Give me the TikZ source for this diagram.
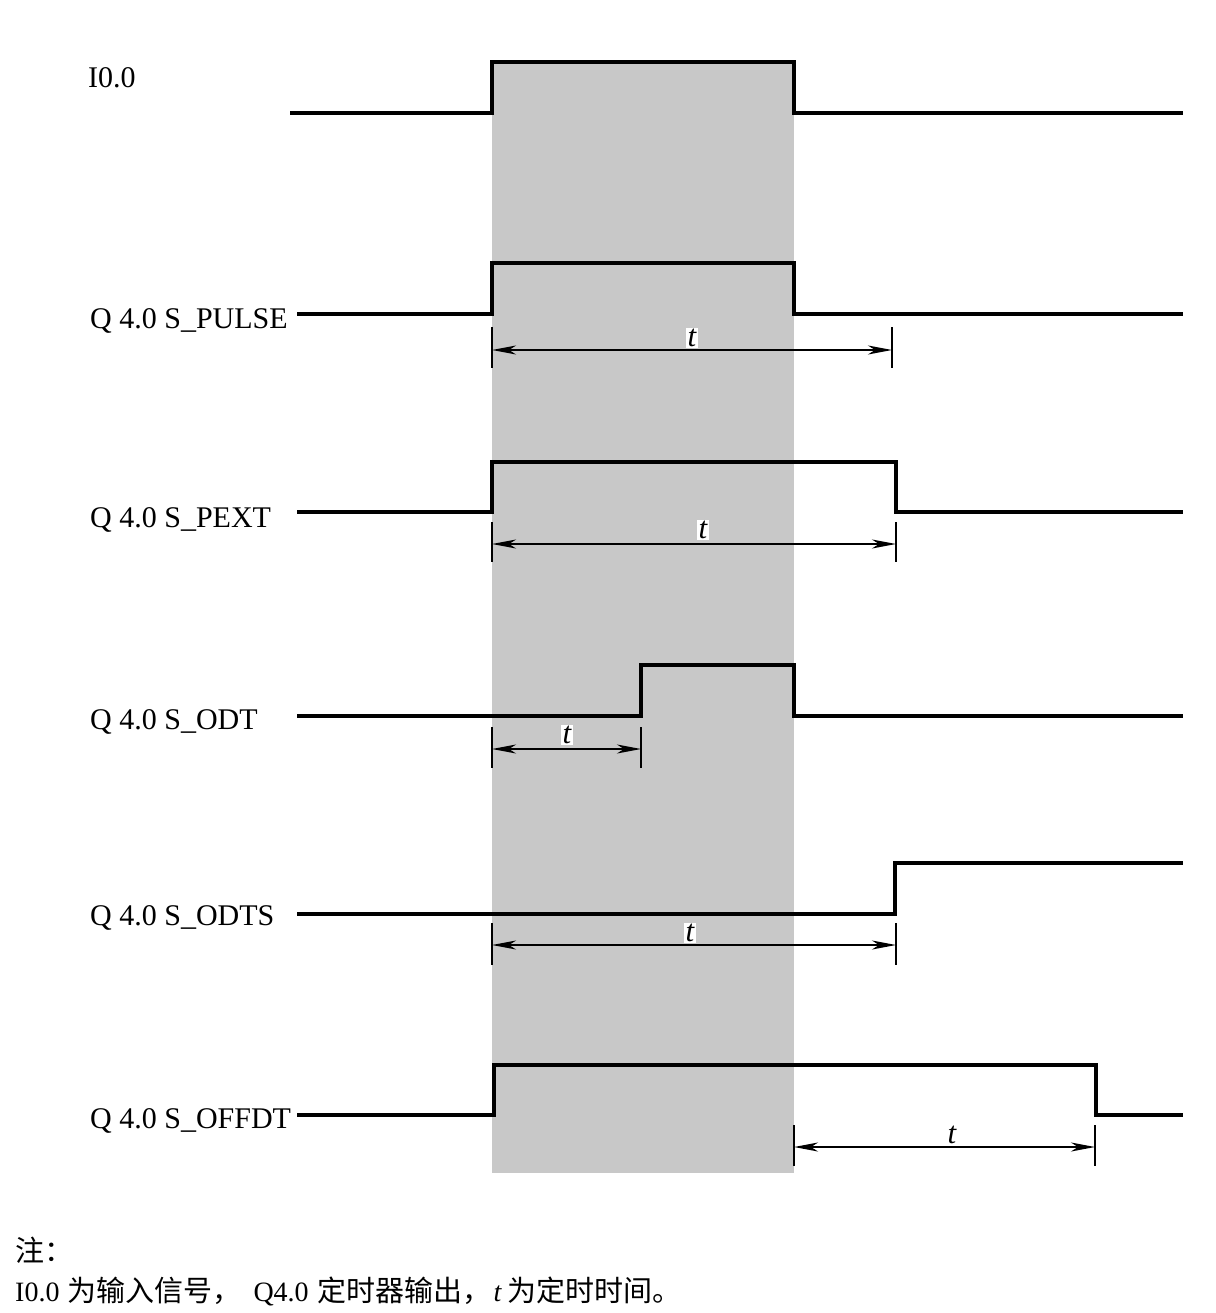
\documentclass[tikz,border=0pt]{standalone}
\usepackage{fontspec}
\setmainfont{Liberation Serif}
\newfontfamily\cjk{Noto Sans CJK SC}
\usetikzlibrary{arrows.meta}
\definecolor{band}{RGB}{200,200,200}
\begin{document}
\begin{tikzpicture}[x=1pt,y=-1pt,
  sig/.style={line width=3.6pt, line join=miter, line cap=butt},
  tickline/.style={line width=1.8pt},
  dimline/.style={line width=1.8pt, {Stealth[length=24pt,width=9pt,inset=7pt]}-{Stealth[length=24pt,width=9pt,inset=7pt]}},
  lbl/.style={anchor=base west, inner sep=0pt, font=\fontsize{30}{36}\selectfont},
  tlbl/.style={fill=white, inner sep=1.5pt, font=\fontsize{31}{32}\selectfont\itshape},
  note/.style={anchor=base west, inner sep=0pt, font=\fontsize{28}{34}\selectfont}]
\useasboundingbox (0,0) rectangle (1215,1313);
\fill[band] (492,62) rectangle (794,1173);

% labels
\node[lbl] (lI) at (88,88) {I0.0};
\node[lbl] (lP) at (90,328) {Q 4.0 S\_PULSE};
\node[lbl] (lE) at (90,527) {Q 4.0 S\_PEXT};
\node[lbl] (lO) at (90,729) {Q 4.0 S\_ODT};
\node[lbl] (lS) at (90,925) {Q 4.0 S\_ODTS};
\node[lbl] (lF) at (90,1128) {Q 4.0 S\_OFFDT};

% waveforms
\draw[sig] (290,113) -- (492,113) -- (492,62) -- (794,62) -- (794,113) -- (1183,113);
\draw[sig] (297,314) -- (492,314) -- (492,263) -- (794,263) -- (794,314) -- (1183,314);
\draw[sig] (297,512) -- (492,512) -- (492,462) -- (896,462) -- (896,512) -- (1183,512);
\draw[sig] (297,716) -- (641,716) -- (641,665) -- (794,665) -- (794,716) -- (1183,716);
\draw[sig] (297,914) -- (895,914) -- (895,863) -- (1183,863);
\draw[sig] (297,1115) -- (494,1115) -- (494,1065) -- (1096,1065) -- (1096,1115) -- (1183,1115);

% dimension: S_PULSE
\draw[tickline] (492,327) -- (492,368);
\draw[tickline] (892,327) -- (892,368);
\coordinate (pa) at (492,350); \coordinate (pb) at (892,350);
\draw[dimline] (pa) -- (pb);
\node[tlbl] (tp) at (692,338) {t};

% dimension: S_PEXT
\draw[tickline] (492,522) -- (492,562);
\draw[tickline] (896,522) -- (896,562);
\coordinate (ea) at (492,544); \coordinate (eb) at (896,544);
\draw[dimline] (ea) -- (eb);
\node[tlbl] (te) at (703,530) {t};

% dimension: S_ODT
\draw[tickline] (492,727) -- (492,768);
\draw[tickline] (641,727) -- (641,768);
\coordinate (oa) at (492,749); \coordinate (ob) at (641,749);
\draw[dimline] (oa) -- (ob);
\node[tlbl] (to) at (567,735) {t};

% dimension: S_ODTS
\draw[tickline] (492,923) -- (492,965);
\draw[tickline] (896,923) -- (896,965);
\coordinate (sa) at (492,945); \coordinate (sb) at (896,945);
\draw[dimline] (sa) -- (sb);
\node[tlbl] (ts) at (690,933) {t};

% dimension: S_OFFDT
\draw[tickline] (794,1125) -- (794,1166);
\draw[tickline] (1095,1125) -- (1095,1166);
\coordinate (fa) at (794,1147); \coordinate (fb) at (1095,1147);
\draw[dimline] (fa) -- (fb);
\node[tlbl] (tf) at (952,1135) {t};

% note
\node[note] (n1) at (15,1261) {{\cjk\fontsize{29}{34}\selectfont 注：}};
\node[note] (n2) at (15,1301) {I0.0\hspace{8pt}{\cjk\fontsize{29}{34}\selectfont 为输入信号，}\hspace{12pt}Q4.0\hspace{9pt}{\cjk\fontsize{29}{34}\selectfont 定时器输出，}\hspace{2pt}{\itshape t}\hspace{6pt}{\cjk\fontsize{29}{34}\selectfont 为定时时间。}};
\end{tikzpicture}
\end{document}
